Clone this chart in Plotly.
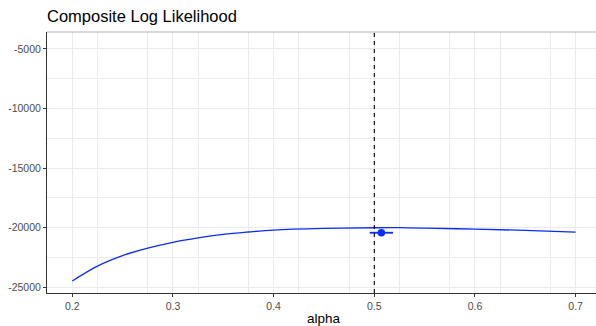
import plotly.graph_objects as go

alpha = [0.2, 0.225, 0.25, 0.275, 0.3, 0.325, 0.35, 0.375, 0.4, 0.45, 0.5, 0.525, 0.55, 0.6, 0.65, 0.7]
loglik = [-24460, -23210, -22330, -21710, -21220, -20850, -20560, -20355, -20190, -20056, -20000, -19995, -20028, -20111, -20222, -20361]

est_alpha = [0.507]
est_loglik = [-20417]
est_err = [0.0116]

true_alpha = 0.5

x_ticks = [0.2, 0.3, 0.4, 0.5, 0.6, 0.7]
x_labels = ["0.2", "0.3", "0.4", "0.5", "0.6", "0.7"]
y_ticks = [-25000, -20000, -15000, -10000, -5000]
y_labels = ["-25000", "-20000", "-15000", "-10000", "-5000"]

BLUE = "#0a2cff"
GRID = "#EBEBEB"
TXT = "#4D4D4D"
FONT = "Liberation Sans, Arial, sans-serif"

fig = go.Figure()
fig.add_trace(go.Scatter(x=alpha, y=loglik, mode="lines",
                         line=dict(color=BLUE, width=1.3, shape="spline", smoothing=1.0),
                         hoverinfo="skip", showlegend=False))
fig.add_trace(go.Scatter(x=est_alpha, y=est_loglik, mode="markers",
                         marker=dict(color=BLUE, size=7.5),
                         error_x=dict(type="data", array=est_err, color=BLUE, thickness=1.8, width=0),
                         showlegend=False))

fig.add_vline(x=true_alpha, line=dict(color="black", width=1.1, dash="4px,4px"))

fig.add_annotation(x=0.45, xref="x", y=-0.098, yref="y domain", text="alpha",
                   showarrow=False, font=dict(family=FONT, size=13.5, color="black"),
                   xanchor="center", yanchor="middle")

fig.update_layout(
    width=596, height=326,
    margin=dict(l=47, r=0, t=32, b=33),
    plot_bgcolor="white", paper_bgcolor="white",
    font=dict(family=FONT, color=TXT),
    title=dict(text="Composite Log Likelihood", x=47/596, xref="container", xanchor="left",
               y=1 - 16/326, yref="container", yanchor="middle",
               font=dict(family=FONT, size=16.5, color="black")),
)
fig.update_xaxes(range=[0.1749, 0.7202], tickvals=x_ticks, ticktext=x_labels,
                 showgrid=True, gridcolor=GRID, gridwidth=1.1,
                 minor=dict(dtick=0.05, tick0=0.175, showgrid=True, gridcolor=GRID, gridwidth=0.55),
                 showline=True, linecolor="#333333", linewidth=1.1, mirror=False,
                 ticks="outside", ticklen=3, tickcolor="#333333", tickwidth=1.1,
                 tickfont=dict(family=FONT, size=10.5, color=TXT), zeroline=False)
fig.update_yaxes(range=[-25469, -3585], tickvals=y_ticks, ticktext=y_labels,
                 showgrid=True, gridcolor=GRID, gridwidth=1.1,
                 minor=dict(dtick=2500, tick0=-25000, showgrid=True, gridcolor=GRID, gridwidth=0.55),
                 showline=True, linecolor="#333333", linewidth=1.1, mirror=False,
                 ticks="outside", ticklen=3, tickcolor="#333333", tickwidth=1.1,
                 tickfont=dict(family=FONT, size=10.5, color=TXT), zeroline=False)
# top border line
fig.add_shape(type="line", xref="paper", yref="paper", x0=0, x1=1, y0=1, y1=1,
              line=dict(color="#B3B3B3", width=1))

fig.write_html("out.html", config={"displayModeBar": False},
               post_script="document.body.style.margin='0';document.body.style.padding='0';document.body.style.overflow='hidden';")
